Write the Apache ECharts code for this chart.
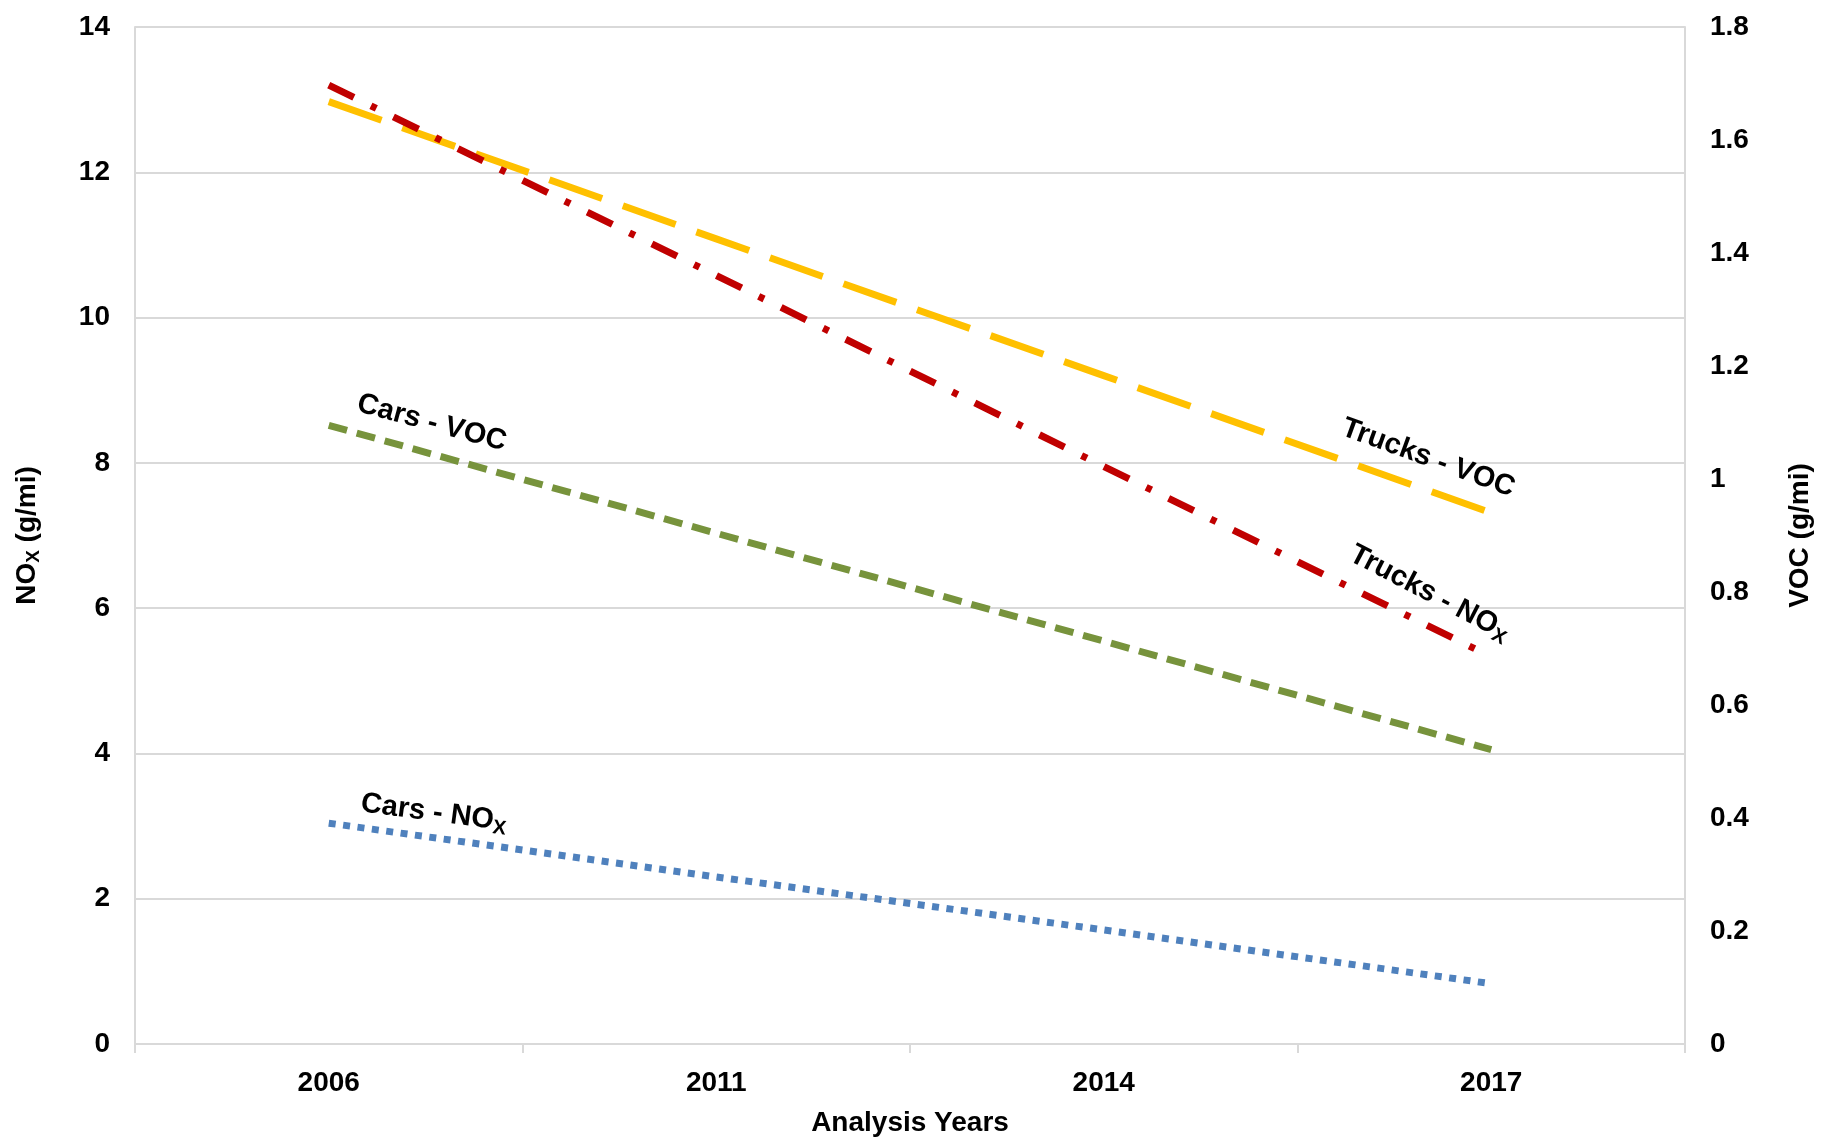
<!DOCTYPE html>
<html><head><meta charset="utf-8">
<script src="https://cdn.jsdelivr.net/npm/echarts@6/dist/echarts.min.js"></script>
<style>html,body{margin:0;padding:0;background:#fff}#c{width:1822px;height:1142px}</style>
</head><body><div id="c"></div>
<script>
// ---- data ----
const categories = ['2006', '2011', '2014', '2017'];
const carsNox   = [3.04, 2.30, 1.57, 0.83];
const trucksNox = [13.2, 10.58, 7.95, 5.33];
const carsVoc   = [1.095, 0.904, 0.713, 0.521];
const trucksVoc = [1.668, 1.425, 1.183, 0.94];
const seriesLabels = ['Cars - NO{sub|X}', 'Trucks - NO{sub|X}', 'Cars - VOC', 'Trucks - VOC'];
const axisNames = ['NO{sub|X} (g/mi)', 'VOC (g/mi)', 'Analysis Years'];

// ---- chart ----
const FONT = '"Liberation Sans", Arial, Helvetica, sans-serif';
const GRID = '#d9d9d9';
const chart = echarts.init(document.getElementById('c'), null, { renderer: 'canvas' });

const labelBase = {
  show: true, position: 'inside', color: '#000', fontFamily: FONT, fontWeight: 'bold',
  fontSize: 29, lineHeight: 34, align: 'center', verticalAlign: 'middle',
  rich: { sub: { fontFamily: FONT, fontWeight: 'bold', fontSize: 20, color: '#000', verticalAlign: 'bottom', lineHeight: 34 } }
};
function withLabel(values, idx, text, rotate, offset) {
  return values.map((v, i) => i === idx
    ? { value: v, label: Object.assign({}, labelBase, { formatter: text, rotate: rotate, offset: offset }) }
    : v);
}
function lineSeries(name, values, yIdx, color, dash, labelIdx, text, rotate, offset) {
  return {
    name: name, type: 'line', yAxisIndex: yIdx,
    data: withLabel(values, labelIdx, text, rotate, offset),
    symbol: 'circle', symbolSize: 2, showSymbol: true,
    itemStyle: { color: 'rgba(0,0,0,0)', borderWidth: 0 },
    lineStyle: { color: color, width: 7, type: dash, cap: 'butt', join: 'miter' },
    label: { show: false },
    emphasis: { disabled: true }, silent: true, animation: false
  };
}
const axisLabelStyle = { color: '#000', fontFamily: FONT, fontWeight: 'bold', fontSize: 28 };
const nameStyle = {
  color: '#000', fontFamily: FONT, fontWeight: 'bold', fontSize: 28,
  rich: { sub: { fontFamily: FONT, fontWeight: 'bold', fontSize: 19, color: '#000', verticalAlign: 'bottom', lineHeight: 32 } }
};

chart.setOption({
  backgroundColor: '#fff',
  animation: false,
  grid: { left: 135, right: 135, top: 27, bottom: 93, containLabel: false },
  xAxis: {
    type: 'category', data: categories, boundaryGap: true,
    axisLine: { show: true, lineStyle: { color: GRID, width: 2 } },
    axisTick: { show: true, length: 9, lineStyle: { color: GRID, width: 2 } },
    axisLabel: Object.assign({ margin: 25 }, axisLabelStyle),
    splitLine: { show: false },
    name: axisNames[2], nameLocation: 'middle', nameGap: 65, nameTextStyle: nameStyle
  },
  yAxis: [{
    type: 'value', position: 'left', min: 0, max: 14, interval: 2,
    axisLine: { show: true, lineStyle: { color: GRID, width: 2 } },
    axisTick: { show: false },
    splitLine: { show: true, lineStyle: { color: GRID, width: 2 } },
    axisLabel: Object.assign({ margin: 25 }, axisLabelStyle),
    name: axisNames[0], nameLocation: 'middle', nameRotate: 90, nameGap: 92, nameTextStyle: nameStyle
  }, {
    type: 'value', position: 'right', min: 0, max: 1.8, interval: 0.2,
    axisLine: { show: true, lineStyle: { color: GRID, width: 2 } },
    axisTick: { show: false },
    splitLine: { show: false },
    axisLabel: Object.assign({ margin: 25 }, axisLabelStyle),
    name: axisNames[1], nameLocation: 'middle', nameRotate: 90, nameGap: 101, nameTextStyle: nameStyle
  }],
  series: [
    lineSeries('Cars - VOC', carsVoc, 1, '#77933C', [19, 10], 0, seriesLabels[2], -15, [99, -29]),
    lineSeries('Trucks - VOC', trucksVoc, 1, '#FFC000', [56, 22], 3, seriesLabels[3], -20, [-78, -30]),
    lineSeries('Trucks - NOx', trucksNox, 0, '#C00000', [28, 19, 6, 19], 3, seriesLabels[1], -27.5, [-84, -28]),
    lineSeries('Cars - NOx', carsNox, 0, '#4F81BD', [7, 7.5], 0, seriesLabels[0], -7.5, [103, -24])
  ]
});
</script>
</body></html>
